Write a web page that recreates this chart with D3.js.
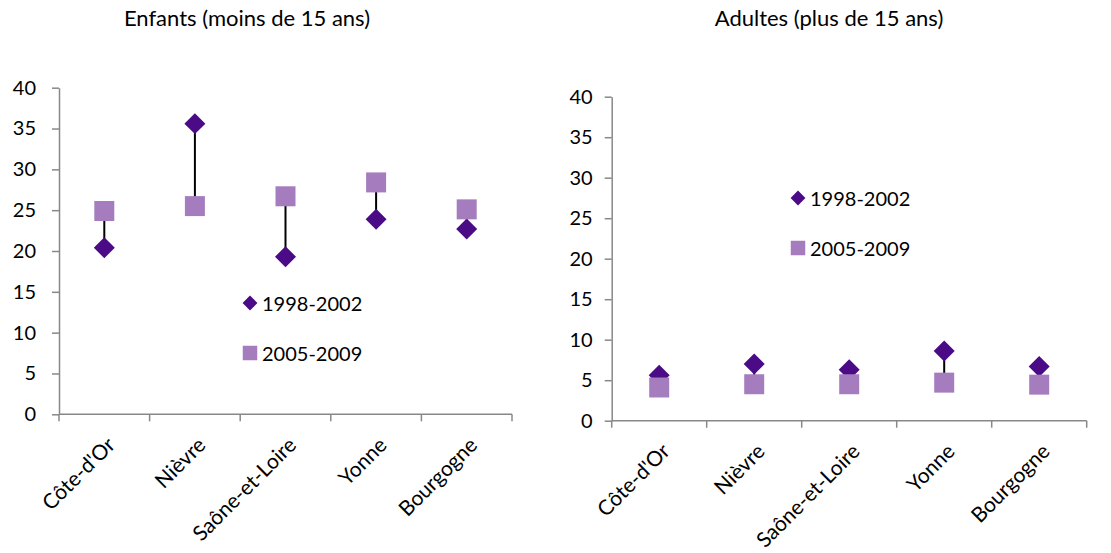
<!DOCTYPE html>
<html>
<head>
<meta charset="utf-8">
<script src="https://cdn.jsdelivr.net/npm/d3@7"></script>
<style>
  html, body { margin: 0; padding: 0; background: #fff; }
  svg { display: block; font-family: Lato, "Open Sans", sans-serif; }
</style>
</head>
<body>
<svg id="chart" width="1111" height="553"></svg>
<script>
// Départements of Bourgogne and the regional total
const categories = ["Côte-d'Or", "Nièvre", "Saône-et-Loire", "Yonne", "Bourgogne"];
const seriesNames = ["1998-2002", "2005-2009"];

// Children (under 15)
const enfants1998 = [20.4, 35.6, 19.3, 23.9, 22.7];
const enfants2005 = [24.9, 25.5, 26.7, 28.4, 25.1];

// Adults (over 15)
const adultes1998 = [5.6, 7.0, 6.3, 8.6, 6.7];
const adultes2005 = [4.1, 4.5, 4.5, 4.7, 4.45];

const yTicks = [0, 5, 10, 15, 20, 25, 30, 35, 40];

const colorOld = "#4b0a86";
const colorNew = "#a57dbf";
const axisColor = "#888888";

const svg = d3.select("#chart");

const panels = [
  { title: "Enfants (moins de 15 ans)", old: enfants1998, recent: enfants2005,
    left: 59, right: 512, top: 87.7, bottom: 414.3, titleX: 247,
    legendX: 250, legendY: 303, tickGap: 16 },
  { title: "Adultes (plus de 15 ans)", old: adultes1998, recent: adultes2005,
    left: 611.7, right: 1086.7, top: 96.7, bottom: 420.7, titleX: 829,
    legendX: 798, legendY: 198, tickGap: 12 }
];

const diamond = d3.symbol().type(d3.symbolSquare).size(220);
const square = d3.symbol().type(d3.symbolSquare).size(400);
const legendDiamond = d3.symbol().type(d3.symbolSquare).size(110);
const legendSquare = d3.symbol().type(d3.symbolSquare).size(210);

panels.forEach(p => {
  const g = svg.append("g");

  const x = d3.scaleBand().domain(categories).range([p.left, p.right]).padding(0);
  const y = d3.scaleLinear().domain([0, 40]).range([p.bottom, p.top]);
  const cx = c => x(c) + x.bandwidth() / 2;

  // Title
  g.append("text")
    .attr("x", p.titleX).attr("y", 26)
    .attr("text-anchor", "middle")
    .attr("font-size", 22)
    .attr("fill", "#000")
    .text(p.title);

  // Y axis
  const yAxis = g.append("g")
    .attr("transform", `translate(${p.left},0)`)
    .call(d3.axisLeft(y).tickValues(yTicks).tickSize(7).tickPadding(p.tickGap).tickSizeOuter(0));
  yAxis.select(".domain").attr("stroke", axisColor).attr("stroke-width", 1.5);
  yAxis.selectAll(".tick line").attr("stroke", axisColor).attr("stroke-width", 1.5);
  yAxis.selectAll(".tick text").attr("font-size", 20).attr("fill", "#000")
    .attr("font-family", "Lato, sans-serif");

  // X axis: ticks on band boundaries, labels rotated
  const xg = g.append("g").attr("transform", `translate(0,${p.bottom})`);
  xg.append("line")
    .attr("x1", p.left).attr("x2", p.right)
    .attr("stroke", axisColor).attr("stroke-width", 1.5);
  const bounds = categories.map(c => x(c)).concat([p.right]);
  xg.selectAll("line.tick").data(bounds).join("line")
    .attr("class", "tick")
    .attr("x1", d => d).attr("x2", d => d)
    .attr("y1", 0).attr("y2", 7)
    .attr("stroke", axisColor).attr("stroke-width", 1.5);
  xg.selectAll("text.cat").data(categories).join("text")
    .attr("class", "cat")
    .attr("transform", d => `translate(${cx(d) + 12},${32}) rotate(-45)`)
    .attr("text-anchor", "end")
    .attr("font-size", 21)
    .attr("fill", "#000")
    .text(d => d);

  // High-low connectors
  g.selectAll("line.hl").data(categories).join("line")
    .attr("class", "hl")
    .attr("x1", cx).attr("x2", cx)
    .attr("y1", (d, i) => y(p.old[i]))
    .attr("y2", (d, i) => y(p.recent[i]))
    .attr("stroke", "#000").attr("stroke-width", 2);

  // 1998-2002 diamonds
  g.selectAll("path.old").data(categories).join("path")
    .attr("class", "old")
    .attr("d", diamond)
    .attr("transform", (d, i) => `translate(${cx(d)},${y(p.old[i])}) rotate(45)`)
    .attr("fill", colorOld);

  // 2005-2009 squares
  g.selectAll("path.recent").data(categories).join("path")
    .attr("class", "recent")
    .attr("d", square)
    .attr("transform", (d, i) => `translate(${cx(d)},${y(p.recent[i])})`)
    .attr("fill", colorNew);

  // Legend
  const lg = g.append("g");
  lg.append("path").attr("d", legendDiamond)
    .attr("transform", `translate(${p.legendX},${p.legendY}) rotate(45)`)
    .attr("fill", colorOld);
  lg.append("text").attr("x", p.legendX + 12).attr("y", p.legendY)
    .attr("dominant-baseline", "central").attr("font-size", 20).text(seriesNames[0]);
  lg.append("path").attr("d", legendSquare)
    .attr("transform", `translate(${p.legendX},${p.legendY + 50})`)
    .attr("fill", colorNew);
  lg.append("text").attr("x", p.legendX + 12).attr("y", p.legendY + 50)
    .attr("dominant-baseline", "central").attr("font-size", 20).text(seriesNames[1]);
});
</script>
</body>
</html>
